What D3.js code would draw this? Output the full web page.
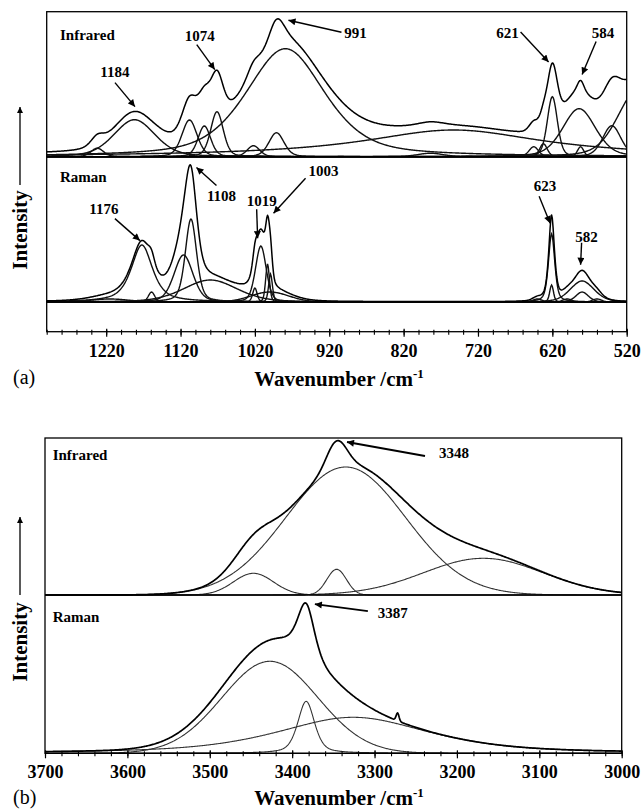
<!DOCTYPE html>
<html>
<head>
<meta charset="utf-8">
<title>Infrared and Raman band fitting</title>
<script src="https://cdn.jsdelivr.net/npm/d3@7/dist/d3.min.js"></script>
<style>
  body { margin: 0; background: #fff; }
  svg text { font-family: "Liberation Serif", "Times New Roman", serif; fill: #000; }
</style>
</head>
<body>
<svg id="chart" width="643" height="812"></svg>
<script>
// fitted bands: [centre /cm-1, height (a.u.), FWHM /cm-1, lorentzian share]
const irBandsA = [
    [1232, 8.5, 20, 0.3], [1182, 37, 65, 0.3], [1108, 36.7, 24, 0.3], [1088, 30.7, 20, 0.3],
    [1071, 45, 20, 0.3], [1022, 11, 20, 0.3], [991, 24, 24, 0.3], [979, 108, 125, 0.5],
    [784, 3.5, 40, 0.3], [753, 26.7, 296, 1], [645, 10, 15, 0.3], [632, 13, 12, 0.3],
    [620, 60, 16, 0.3], [584, 48, 52, 0.3], [582, 10, 10, 0.3], [540, 31, 29, 0.3],
    [505, 67, 64, 0.3]
];
const ramanBandsA = [
    [1215, 3, 60, 0], [1172, 57, 34, 0.7], [1159, 10, 10, 0.3], [1116, 47, 30, 0.3],
    [1106, 83, 18, 0.4], [1080, 22, 85, 0.3], [1020, 14, 7, 0.3], [1012, 56, 17, 0.3],
    [1003, 38, 6, 0.3], [999, 28, 6, 0.3], [1000, 10, 60, 0], [640, 3, 15, 0],
    [621, 68, 10, 0.5], [621, 17, 6, 0.3], [600, 3, 15, 0], [580, 21, 38, 0.3],
    [580, 10, 20, 0.3], [560, 3, 15, 0]
];
const irBandsB = [
    [3447, 21.7, 57, 0], [3335, 128, 171, 0], [3346, 25.7, 28, 0], [3168, 36.7, 171, 0]
];
const ramanBandsB = [
    [3427, 92, 137, 0], [3383, 52, 24, 0.5], [3326, 36, 218, 0.6]
];
// narrow spike in the measured raman trace, not part of the fit
const ramanSpikeB = [[3272, 8, 4, 0]];

const irPeaksA = [1184, 1074, 991, 621, 584];
const ramanPeaksA = [1176, 1108, 1019, 1003, 623, 582];
const irPeaksB = [3348];
const ramanPeaksB = [3387];

const ticksA = [1220, 1120, 1020, 920, 820, 720, 620, 520];
const ticksB = [3700, 3600, 3500, 3400, 3300, 3200, 3100, 3000];

// label placement (px): arrow tip from the curve point, tail and text from the tip
const irNotesA = [
    { tip: [2, -5], tail: [-20, -24], label: [-20, -35] },
    { tip: [0, -2], tail: [-18, -25], label: [-15, -34] },
    { tip: [12, 1], tail: [53, 12], label: [67, 12] },
    { tip: [-3, -2], tail: [-28, -30], label: [-41, -29] },
    { tip: [3, -7], tail: [14, -33], label: [21, -42] }
];
const ramanNotesA = [
    { tip: [1, -3], tail: [-25, -22], label: [-36, -32] },
    { tip: [7, 2], tail: [20, 18], label: [25, 28] },
    { tip: [2, -1], tail: [-1, -29], label: [4, -37] },
    { tip: [6, -2], tail: [32, -35], label: [50, -42] },
    { tip: [0, -5], tail: [-11, -27], label: [-5, -37] },
    { tip: [0, -6], tail: [1, -22], label: [6, -28] }
];
const irNotesB = [{ tip: [12, 0], tail: [78, 14], label: [107, 11] }];
const ramanNotesB = [{ tip: [12, -1], tail: [53, 7], label: [78, 9] }];

const svg = d3.select('#chart');
const defs = svg.append('defs');

const addHead = (id, w, h) => {
    defs.append('marker')
        .attr('id', id)
        .attr('viewBox', '0 0 10 10')
        .attr('refX', 10)
        .attr('refY', 5)
        .attr('markerWidth', w)
        .attr('markerHeight', h)
        .attr('markerUnits', 'userSpaceOnUse')
        .attr('orient', 'auto')
        .append('path')
        .attr('d', 'M0,0 L10,5 L0,10 Z')
        .attr('fill', '#000');
};
addHead('head', 8, 7);
addHead('bigHead', 10, 6);

// pseudo-Voigt band
const bandAt = (w, [c, h, fwhm, eta]) => {
    const u = (w - c) / (fwhm / 2);
    return h * ((1 - eta) * Math.exp(-Math.LN2 * u * u) + eta / (1 + u * u));
};
const sumAt = (w, bands) => d3.sum(bands, b => bandAt(w, b));

const panels = [
    {
        id: 'a', xDomain: [1300, 520], left: 46.7, right: 626.7, top: 11.7, bottom: 331.7,
        majors: ticksA, labelY: 351, titleY: 379, tagY: 377,
        arrow: [185, 107], intensityY: 230,
        envWidth: 1.5, compWidth: 1.4, compColor: '#111',
        sections: [
            { name: 'Infrared', nameY: 35, base: 156.7, top: 11.7, yMax: 145,
              bands: irBandsA, extra: [], peaks: irPeaksA, notes: irNotesA },
            { name: 'Raman', nameY: 177, base: 302, top: 156.7, yMax: 145.3,
              bands: ramanBandsA, extra: [], peaks: ramanPeaksA, notes: ramanNotesA }
        ]
    },
    {
        id: 'b', xDomain: [3700, 3000], left: 45, right: 621.7, top: 438, bottom: 753.3,
        majors: ticksB, labelY: 771.7, titleY: 798, tagY: 797,
        arrow: [595, 517], intensityY: 642,
        envWidth: 1.7, compWidth: 1.1, compColor: '#333',
        sections: [
            { name: 'Infrared', nameY: 455, base: 595, top: 438, yMax: 157,
              bands: irBandsB, extra: [], peaks: irPeaksB, notes: irNotesB },
            { name: 'Raman', nameY: 616.7, base: 753.3, top: 595, yMax: 158.3,
              bands: ramanBandsB, extra: ramanSpikeB, peaks: ramanPeaksB, notes: ramanNotesB }
        ]
    }
];

panels.forEach(p => {
    const x = d3.scaleLinear().domain(p.xDomain).range([p.left, p.right]);
    const grid = d3.range(p.xDomain[0], p.xDomain[1] - 0.5, -1);

    defs.append('clipPath')
        .attr('id', 'clip-' + p.id)
        .append('rect')
        .attr('x', p.left)
        .attr('y', p.top)
        .attr('width', p.right - p.left)
        .attr('height', p.bottom - p.top);

    p.sections.forEach(s => {
        const y = d3.scaleLinear().domain([0, s.yMax]).range([s.base, s.top]);
        const line = d3.line().x(d => x(d[0])).y(d => y(d[1]));
        const envAt = w => sumAt(w, s.bands) + sumAt(w, s.extra);
        const g = svg.append('g').attr('clip-path', `url(#clip-${p.id})`);

        s.bands.forEach(b => {
            g.append('path')
                .datum(grid.map(w => [w, bandAt(w, b)]))
                .attr('d', line)
                .attr('fill', 'none')
                .attr('stroke', p.compColor)
                .attr('stroke-width', p.compWidth);
        });

        g.append('path')
            .datum(grid.map(w => [w, envAt(w)]))
            .attr('d', line)
            .attr('fill', 'none')
            .attr('stroke', '#000')
            .attr('stroke-width', p.envWidth)
            .attr('stroke-linejoin', 'round');

        // baseline of the section
        svg.append('line')
            .attr('x1', p.left).attr('x2', p.right)
            .attr('y1', y(0)).attr('y2', y(0))
            .attr('stroke', '#000')
            .attr('stroke-width', 1.3);

        svg.append('text')
            .attr('x', p.left + (p.id === 'a' ? 13.3 : 7.7))
            .attr('y', s.nameY)
            .attr('dy', '0.35em')
            .attr('font-size', 15)
            .attr('font-weight', 'bold')
            .text(s.name);

        s.peaks.forEach((pk, i) => {
            const n = s.notes[i];
            const tx = x(pk) + n.tip[0];
            const ty = y(envAt(pk)) + n.tip[1];
            svg.append('line')
                .attr('x1', tx + n.tail[0]).attr('y1', ty + n.tail[1])
                .attr('x2', tx).attr('y2', ty)
                .attr('stroke', '#000')
                .attr('stroke-width', p.id === 'b' ? 1.8 : 1.4)
                .attr('marker-end', 'url(#head)');
            svg.append('text')
                .attr('x', tx + n.label[0])
                .attr('y', ty + n.label[1])
                .attr('dy', '0.35em')
                .attr('text-anchor', 'middle')
                .attr('font-size', 15)
                .attr('font-weight', 'bold')
                .text(pk);
        });
    });

    // frame
    svg.append('rect')
        .attr('x', p.left).attr('y', p.top)
        .attr('width', p.right - p.left).attr('height', p.bottom - p.top)
        .attr('fill', 'none')
        .attr('stroke', '#000')
        .attr('stroke-width', 1.3);

    // minor and major ticks, crossing the bottom edge
    const minors = d3.range(p.xDomain[0], p.xDomain[1] - 0.5, -20);
    svg.append('g')
        .attr('transform', `translate(0,${p.bottom})`)
        .call(d3.axisBottom(x).tickValues(minors).tickSize(3).tickFormat(''))
        .call(a => a.select('.domain').remove())
        .call(a => a.selectAll('line').attr('y1', -2).attr('stroke-width', 1.1));

    svg.append('g')
        .attr('transform', `translate(0,${p.bottom})`)
        .call(d3.axisBottom(x).tickValues(p.majors).tickSize(5).tickFormat(d3.format('d')))
        .call(a => a.select('.domain').remove())
        .call(a => a.selectAll('line').attr('y1', -3).attr('stroke-width', 1.2))
        .call(a => a.selectAll('text')
            .attr('y', p.labelY - p.bottom)
            .attr('dy', '0.35em')
            .attr('font-size', 18)
            .attr('font-weight', 'bold')
            .attr('font-family', null));

    const title = svg.append('text')
        .attr('x', 339)
        .attr('y', p.titleY)
        .attr('dy', '0.35em')
        .attr('text-anchor', 'middle')
        .attr('font-size', 21)
        .attr('font-weight', 'bold');
    title.append('tspan').text('Wavenumber /cm');
    title.append('tspan').attr('font-size', 13).attr('dy', -8).text('-1');

    svg.append('text')
        .attr('x', 13)
        .attr('y', p.tagY)
        .attr('dy', '0.35em')
        .attr('font-size', 20)
        .text(`(${p.id})`);

    // intensity arrow and label
    svg.append('line')
        .attr('x1', 20).attr('x2', 20)
        .attr('y1', p.arrow[0]).attr('y2', p.arrow[1])
        .attr('stroke', '#000')
        .attr('stroke-width', 1.3)
        .attr('marker-end', 'url(#bigHead)');

    svg.append('text')
        .attr('transform', `translate(20, ${p.intensityY}) rotate(-90)`)
        .attr('dy', '0.35em')
        .attr('text-anchor', 'middle')
        .attr('font-size', 21)
        .attr('font-weight', 'bold')
        .text('Intensity');
});
</script>
</body>
</html>
